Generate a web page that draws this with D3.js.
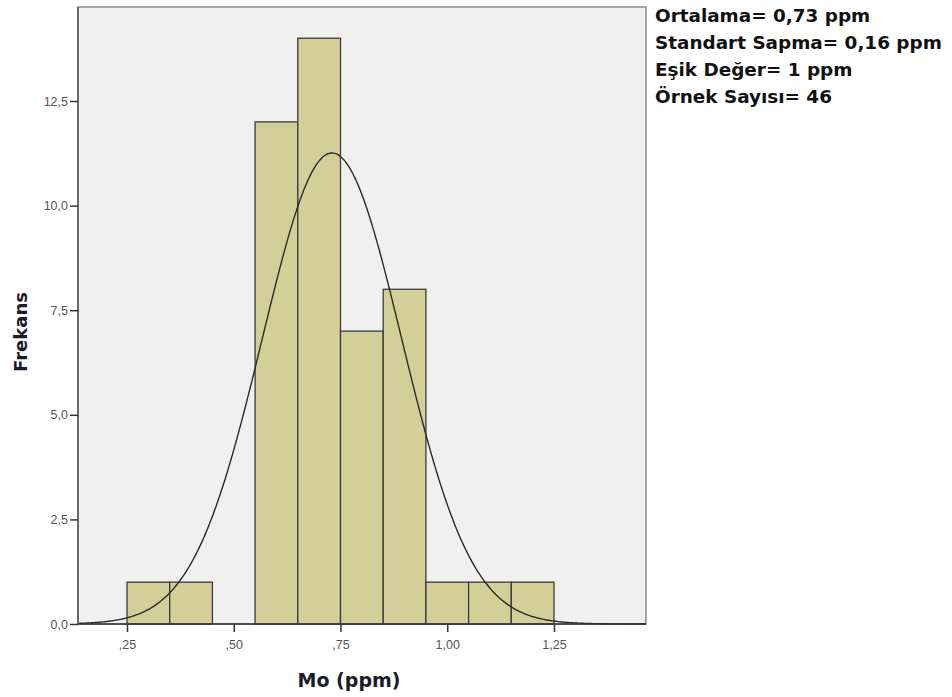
<!DOCTYPE html>
<html><head><meta charset="utf-8">
<script src="https://cdn.jsdelivr.net/npm/d3@7"></script>
<style>body{margin:0;background:#fff}svg{display:block}</style>
</head><body>
<svg id="c" width="952" height="697"></svg>
<script>
// Data
const binStarts = [0.25, 0.35, 0.45, 0.55, 0.65, 0.75, 0.85, 0.95, 1.05, 1.15];
const binWidth = 0.1;
const counts = [1, 1, 0, 12, 14, 7, 8, 1, 1, 1];
const xTicks = [0.25, 0.50, 0.75, 1.00, 1.25];
const xTickLabels = [",25", ",50", ",75", "1,00", "1,25"];
const yTicks = [0, 2.5, 5, 7.5, 10, 12.5];
const yTickLabels = ["0,0", "2,5", "5,0", "7,5", "10,0", "12,5"];
const meanVal = 0.73, sdVal = 0.163, nSamples = 46;
const legendLines = ["Ortalama= 0,73 ppm", "Standart Sapma= 0,16 ppm", "Eşik Değer= 1 ppm", "Örnek Sayısı= 46"];

const svg = d3.select("#c");
const L = 78, R = 646, T = 7, B = 624;
const x = d3.scaleLinear().domain([0.25, 1.25]).range([127, 554]);
const y = d3.scaleLinear().domain([0, 12.5]).range([B, 101]);
const tickFont = "Liberation Sans, Arial, sans-serif";
const titleFont = "DejaVu Sans, Verdana, sans-serif";

svg.append("rect").attr("x", L).attr("y", T).attr("width", R - L).attr("height", B - T)
  .attr("fill", "#f0f0f0").attr("stroke", "#8a8a8a").attr("stroke-width", 1.5);

svg.append("g").selectAll("rect").data(binStarts.map((s, i) => ({s, c: counts[i]})).filter(d => d.c > 0))
  .join("rect")
  .attr("x", d => x(d.s)).attr("width", d => x(d.s + binWidth) - x(d.s))
  .attr("y", d => y(d.c)).attr("height", d => y(0) - y(d.c))
  .attr("fill", "#d4cf99").attr("stroke", "#3a3a3a").attr("stroke-width", 1.3);

// normal curve
const xmin = x.invert(L), xmax = x.invert(R);
const pts = d3.range(0, 401).map(i => xmin + (xmax - xmin) * i / 400);
const dens = v => nSamples * binWidth / (sdVal * Math.sqrt(2 * Math.PI)) * Math.exp(-0.5 * ((v - meanVal) / sdVal) ** 2);
svg.append("path").datum(pts)
  .attr("d", d3.line().x(v => x(v)).y(v => y(dens(v))).curve(d3.curveBasis))
  .attr("fill", "none").attr("stroke", "#2a2a2a").attr("stroke-width", 1.4);

// axes lines
svg.append("line").attr("x1", L).attr("x2", R).attr("y1", B).attr("y2", B).attr("stroke", "#333").attr("stroke-width", 1.5);
svg.append("line").attr("x1", L).attr("x2", L).attr("y1", T).attr("y2", B).attr("stroke", "#555").attr("stroke-width", 1.5);

const yAxis = d3.axisLeft(y).tickValues(yTicks).tickFormat((d, i) => yTickLabels[i]).tickSize(8).tickPadding(2);
const gy = svg.append("g").attr("transform", `translate(${L},0)`).call(yAxis);
gy.select(".domain").remove();
gy.selectAll("line").attr("stroke", "#333").attr("stroke-width", 1.5);
gy.selectAll("text").attr("font-family", tickFont).attr("font-size", 12.5).attr("fill", "#555");

const xAxis = d3.axisBottom(x).tickValues(xTicks).tickFormat((d, i) => xTickLabels[i]).tickSize(8).tickPadding(8);
const gx = svg.append("g").attr("transform", `translate(0,${B})`).call(xAxis);
gx.select(".domain").remove();
gx.selectAll("line").attr("stroke", "#333").attr("stroke-width", 1.5);
gx.selectAll("text").attr("font-family", tickFont).attr("font-size", 12.5).attr("fill", "#555");

svg.append("text").attr("x", 349).attr("y", 687).attr("text-anchor", "middle")
  .attr("font-family", titleFont).attr("font-weight", "bold").attr("font-size", 19).attr("fill", "#1a1a2a")
  .text("Mo (ppm)");
svg.append("text").attr("transform", "translate(27,332) rotate(-90)").attr("text-anchor", "middle")
  .attr("font-family", titleFont).attr("font-weight", "bold").attr("font-size", 18).attr("fill", "#1a1a2a")
  .text("Frekans");

svg.append("g").selectAll("text").data(legendLines).join("text")
  .attr("x", 655).attr("y", (d, i) => 22 + i * 27)
  .attr("font-family", titleFont).attr("font-weight", "bold").attr("font-size", 18.4).attr("fill", "#111")
  .text(d => d);
</script>
</body></html>
